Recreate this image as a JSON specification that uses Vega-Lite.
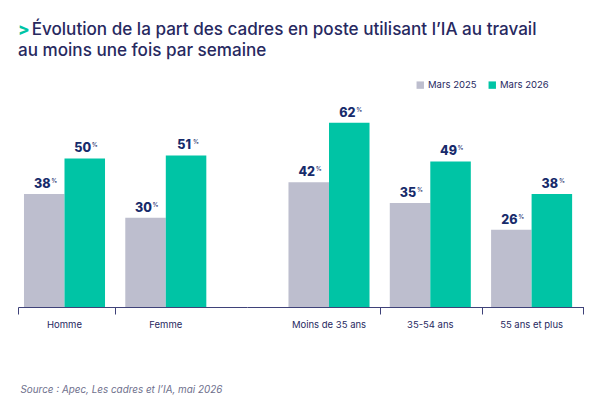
{"$schema":"https://vega.github.io/schema/vega-lite/v6.json","background":"white","padding":{"left":17,"top":20,"right":0,"bottom":0},"autosize":{"type":"pad"},"spacing":0,"title":{"text":">","subtitle":["\u200b\u00a0\u00a0\u00a0Évolution de la part des cadres en poste utilisant l’IA au travail","au moins une fois par semaine"],"anchor":"start","frame":"group","color":"#00C4A5","font":"Inter","fontSize":17,"fontWeight":800,"subtitleColor":"#27295F","subtitleFont":"Inter","subtitleFontSize":17.1,"subtitleFontWeight":500,"subtitleLineHeight":21,"subtitlePadding":-18,"offset":20},"config":{"view":{"stroke":null},"font":"Inter","axis":{"labelFont":"Inter","titleFont":"Inter"}},"hconcat":[{"width":229,"height":208,"data":{"values":[{"groupe":"Homme","periode":"Mars 2025","valeur":38},{"groupe":"Homme","periode":"Mars 2026","valeur":50},{"groupe":"Femme","periode":"Mars 2025","valeur":30},{"groupe":"Femme","periode":"Mars 2026","valeur":51}]},"layer":[{"layer":[{"mark":{"type":"bar"},"encoding":{"x":{"field":"groupe","type":"nominal","sort":["Homme","Femme"],"scale":{"range":[-4.15,198.45],"paddingInner":0.2,"paddingOuter":0.1},"axis":{"title":null,"domain":false,"ticks":false,"labelAngle":0,"labelPadding":12,"labelFontSize":9.5,"labelColor":"#27295F","grid":false}},"xOffset":{"field":"periode","type":"nominal","sort":["Mars 2025","Mars 2026"],"scale":{"paddingInner":0,"paddingOuter":0}},"y":{"field":"valeur","type":"quantitative","scale":{"domain":[0,69.7]},"axis":null},"color":{"field":"periode","type":"nominal","scale":{"domain":["Mars 2025","Mars 2026"],"range":["#BDBECE","#00C4A5"]},"legend":{"title":null,"orient":"none","legendX":397.5,"legendY":-19,"direction":"horizontal","symbolType":"square","symbolSize":55,"symbolStrokeWidth":0,"labelFont":"Inter","labelFontSize":9.5,"labelColor":"#27295F","columnPadding":10,"labelOffset":3}}}},{"mark":{"type":"text","font":"Inter","fontWeight":800,"fontSize":12.5,"color":"#172B6B","dy":-10,"dx":-2},"encoding":{"x":{"field":"groupe","type":"nominal","sort":["Homme","Femme"]},"xOffset":{"field":"periode","type":"nominal","sort":["Mars 2025","Mars 2026"]},"y":{"field":"valeur","type":"quantitative"},"text":{"field":"valeur","type":"quantitative"}}},{"mark":{"type":"text","font":"Inter","fontWeight":500,"fontSize":6,"color":"#172B6B","dy":-13,"dx":10},"encoding":{"x":{"field":"groupe","type":"nominal","sort":["Homme","Femme"]},"xOffset":{"field":"periode","type":"nominal","sort":["Mars 2025","Mars 2026"]},"y":{"field":"valeur","type":"quantitative"},"text":{"value":"%"}}}]},{"mark":{"type":"rule","opacity":0},"encoding":{"x":{"datum":0,"type":"quantitative","scale":{"domain":[0,229]},"axis":{"orient":"bottom","values":[0,97],"labels":false,"grid":false,"domain":true,"domainColor":"#3F4279","tickColor":"#3F4279","tickSize":7,"domainWidth":1,"title":"Source : Apec, Les cadres et l’IA, mai 2026","titleFont":"Inter","titleFontSize":9.9,"titleFontStyle":"italic","titleFontWeight":400,"titleColor":"#6E6F8C","titleAnchor":"start","titleAlign":"left","titlePadding":70,"titleX":2}}}}],"resolve":{"scale":{"x":"independent"},"axis":{"x":"independent"}}},{"width":337,"height":208,"data":{"values":[{"groupe":"Moins de 35 ans","periode":"Mars 2025","valeur":42},{"groupe":"Moins de 35 ans","periode":"Mars 2026","valeur":62},{"groupe":"35-54 ans","periode":"Mars 2025","valeur":35},{"groupe":"35-54 ans","periode":"Mars 2026","valeur":49},{"groupe":"55 ans et plus","periode":"Mars 2025","valeur":26},{"groupe":"55 ans et plus","periode":"Mars 2026","valeur":38}]},"layer":[{"layer":[{"mark":{"type":"bar"},"encoding":{"x":{"field":"groupe","type":"nominal","sort":["Moins de 35 ans","35-54 ans","55 ans et plus"],"scale":{"range":[31.35,335.25],"paddingInner":0.2,"paddingOuter":0.1},"axis":{"title":null,"domain":false,"ticks":false,"labelAngle":0,"labelPadding":12,"labelFontSize":9.5,"labelColor":"#27295F","grid":false}},"xOffset":{"field":"periode","type":"nominal","sort":["Mars 2025","Mars 2026"],"scale":{"paddingInner":0,"paddingOuter":0}},"y":{"field":"valeur","type":"quantitative","scale":{"domain":[0,69.7]},"axis":null},"color":{"field":"periode","type":"nominal","scale":{"domain":["Mars 2025","Mars 2026"],"range":["#BDBECE","#00C4A5"]},"legend":null}}},{"mark":{"type":"text","font":"Inter","fontWeight":800,"fontSize":12.5,"color":"#172B6B","dy":-10,"dx":-2},"encoding":{"x":{"field":"groupe","type":"nominal","sort":["Moins de 35 ans","35-54 ans","55 ans et plus"]},"xOffset":{"field":"periode","type":"nominal","sort":["Mars 2025","Mars 2026"]},"y":{"field":"valeur","type":"quantitative"},"text":{"field":"valeur","type":"quantitative"}}},{"mark":{"type":"text","font":"Inter","fontWeight":500,"fontSize":6,"color":"#172B6B","dy":-13,"dx":10},"encoding":{"x":{"field":"groupe","type":"nominal","sort":["Moins de 35 ans","35-54 ans","55 ans et plus"]},"xOffset":{"field":"periode","type":"nominal","sort":["Mars 2025","Mars 2026"]},"y":{"field":"valeur","type":"quantitative"},"text":{"value":"%"}}}]},{"mark":{"type":"rule","opacity":0},"encoding":{"x":{"datum":0,"type":"quantitative","scale":{"domain":[0,337]},"axis":{"orient":"bottom","values":[133,235,336],"labels":false,"grid":false,"domain":true,"domainColor":"#3F4279","tickColor":"#3F4279","tickSize":7,"domainWidth":1,"title":null}}}}],"resolve":{"scale":{"x":"independent"},"axis":{"x":"independent"}}}]}
